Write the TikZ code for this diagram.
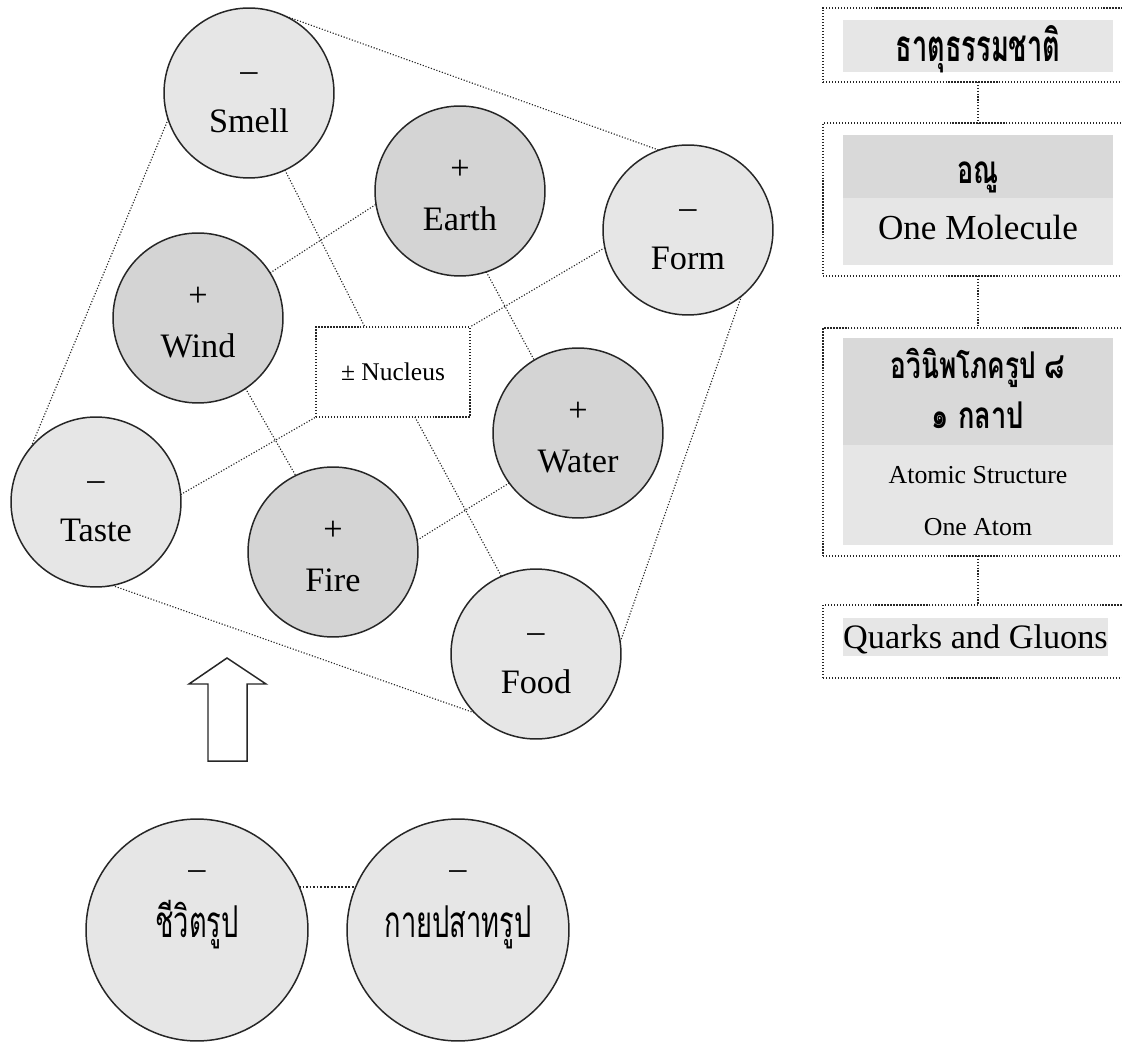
\documentclass[tikz,border=0pt]{standalone}
\usepackage{fontspec}
\setmainfont{Liberation Serif}
\newfontfamily\thaifont[Script=Thai]{Loma}
\definecolor{lightball}{RGB}{230,230,230}
\definecolor{darkball}{RGB}{212,212,212}
\definecolor{banddark}{RGB}{217,217,217}

\begin{document}
\begin{tikzpicture}[x=0.02cm,y=-0.02cm,
  ball/.style={circle,draw=black!85,line width=0.85pt,minimum size=3.4cm,inner sep=0pt,outer sep=0pt,align=center,font=\fontsize{19.5}{29}\selectfont},
  negball/.style={ball,fill=lightball},
  posball/.style={ball,fill=darkball},
  link/.style={densely dotted,line width=0.65pt,black!85},
  frame/.style={draw=black!85,densely dotted,line width=0.7pt,minimum width=6.2cm,inner sep=0pt,outer sep=0pt},
  band/.style={minimum width=5.4cm,inner sep=0pt,outer sep=0pt},
  thaitxt/.style={anchor=base,inner sep=0pt,font=\thaifont\fontsize{#1}{#1}\selectfont}]
\useasboundingbox (0,0) rectangle (1122,1043);
\clip (0,0) rectangle (1122,1043);
% the eight kalapa elements
\node[negball] (smell) at (249,93) {\rule{0pt}{16.5pt}–\\Smell};
\node[posball] (earth) at (460,191) {\rule{0pt}{16.5pt}+\\Earth};
\node[negball] (form) at (688,230) {\rule{0pt}{16.5pt}–\\Form};
\node[posball] (wind) at (198,318) {\rule{0pt}{16.5pt}+\\Wind};
\node[posball] (water) at (578,433) {\rule{0pt}{16.5pt}+\\Water};
\node[negball] (taste) at (96,502) {\rule{0pt}{16.5pt}–\\Taste};
\node[posball] (fire) at (333,552) {\rule{0pt}{16.5pt}+\\Fire};
\node[negball] (food) at (536,654) {\rule{0pt}{16.5pt}–\\Food};
\node[draw=black!85,densely dotted,line width=0.7pt,fill=white,minimum width=3.08cm,minimum height=1.8cm,outer sep=0pt,font=\fontsize{14.5}{17}\selectfont] (nucleus) at (393,372) {± Nucleus};
\draw[link] (smell.66) -- (form.110);
\draw[link] (smell.198) -- (taste.140);
\draw[link] (taste.-79) -- (food.224);
\draw[link] (form.-51) -- (food.8);
\draw[link] (smell.-65) -- (nucleus.122);
\draw[link] (form.192) -- (nucleus.north east);
\draw[link] (wind.32) -- (earth.189);
\draw[link] (earth.-72) -- (water.121);
\draw[link] (wind.-56) -- (fire.116);
\draw[link] (fire.8) -- (water.216);
\draw[link] (taste.5) -- (nucleus.south west);
\draw[link] (nucleus.-64) -- (food.114);
% arrow
\draw[line width=0.85pt,draw=black!85,fill=white] (208,761) -- (208,684) -- (189,684) -- (227,658) -- (266,684) -- (247,684) -- (247,761) -- cycle;
% bottom pair
\node[negball,minimum size=4.44cm,font=\fontsize{19.5}{33}\selectfont] (jivita) at (197,930) {\vphantom{A}–\\{\thaifont\addfontfeature{FakeStretch=0.62}\fontsize{25}{33}\selectfont ชีวิตรูป}\rule[-37pt]{0pt}{0pt}};
\node[negball,minimum size=4.44cm,font=\fontsize{19.5}{33}\selectfont] (kaya) at (458,930) {\vphantom{A}–\\{\thaifont\addfontfeature{FakeStretch=0.62}\fontsize{25}{33}\selectfont กายปสาทรูป}\rule[-37pt]{0pt}{0pt}};
\draw[link,line width=1pt] (jivita.23) -- (kaya.157);
% right column
\node[frame,minimum height=1.48cm] (nature) at (978,45) {};
\node[band,fill=lightball,minimum height=1.04cm] (natureband) at (978,46) {};
\node[thaitxt=25] (naturetxt) at (978,62) {\addfontfeature{FakeStretch=0.62}\bfseries ธาตุธรรมชาติ};
\node[frame,minimum height=3.06cm] (molecule) at (978,199.5) {};
\node[band,fill=banddark,minimum height=1.26cm] (anuband) at (978,166.5) {};
\node[band,fill=lightball,minimum height=1.34cm] (molband) at (978,231.5) {};
\node[thaitxt=22] (anu) at (978,184) {\addfontfeature{FakeStretch=0.7}\bfseries อณู};
\node[anchor=base,inner sep=0pt,font=\fontsize{20}{24}\selectfont] (onemol) at (978,240) {One Molecule};
\node[frame,minimum height=4.56cm] (atom) at (978,442) {};
\node[band,fill=banddark,minimum height=2.14cm] (kalapaband) at (978,391.5) {};
\node[band,fill=lightball,minimum height=2.0cm] (atomband) at (978,495) {};
\node[thaitxt=21] (avini) at (978,379) {\addfontfeature{FakeStretch=0.71}\bfseries อวินิพโภครูป ๘};
\node[thaitxt=21] (kalapa) at (978,429) {\addfontfeature{FakeStretch=0.74}\bfseries ๑ กลาป};
\node[anchor=base,inner sep=0pt,font=\fontsize{14.7}{18}\selectfont] (structure) at (978,483) {Atomic Structure};
\node[anchor=base,inner sep=0pt,font=\fontsize{14.7}{18}\selectfont] (oneatom) at (978,535) {One Atom};
\node[frame,minimum height=1.46cm] (quark) at (978,641.5) {};
\node[fill=lightball,inner sep=0pt,minimum width=5.3cm,minimum height=0.76cm] (quarkband) at (975.5,637) {};
\node[anchor=base,inner sep=0pt,font=\fontsize{19.5}{23}\selectfont] (quarktxt) at (975.5,648) {Quarks and Gluons};
\draw[link] (nature.south) -- (molecule.north);
\draw[link] (molecule.south) -- (atom.north);
\draw[link] (atom.south) -- (quark.north);
\end{tikzpicture}
\end{document}
